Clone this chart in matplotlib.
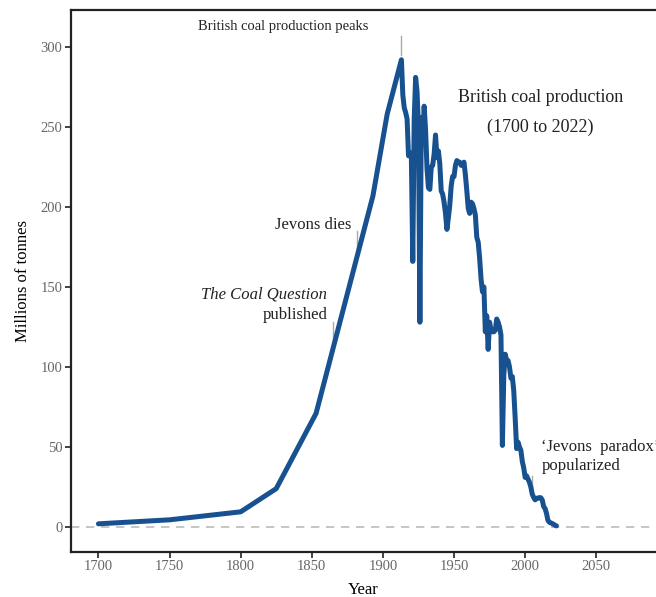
import matplotlib
matplotlib.use("Agg")
import matplotlib.pyplot as plt

# early, sparse observations (million tonnes)
early_years = [1700, 1750, 1800, 1825, 1853, 1893, 1903]
early_values = [2, 4.5, 9.5, 24, 71, 207, 258]

# annual series from the 1913 peak onward
annual_years = list(range(1913, 2023))
annual_values = [
    292, 270, 262, 259, 255, 232, 234, 231, 166, 255,   # 1913-1922
    281, 272, 250, 128, 256, 242, 263, 248, 224, 212,   # 1923-1932
    211, 225, 226, 233, 245, 231, 235, 227, 210, 208,   # 1933-1942
    203, 196, 186, 193, 201, 213, 219, 219, 226, 229,   # 1943-1952
    228, 228, 226, 226, 228, 220, 210, 199, 196, 203,   # 1953-1962
    202, 199, 195, 181, 178, 168, 155, 147, 150, 122,   # 1963-1972
    132, 111, 128, 123, 122, 122, 123, 130, 128, 125,   # 1973-1982
    120, 51, 95, 108, 104, 104, 100, 93, 94, 85,        # 1983-1992
    68, 49, 53, 50, 48, 41, 37, 31, 32, 30,             # 1993-2002
    28, 25, 20.5, 18.5, 17, 18, 18, 18.4, 18.3, 17,     # 2003-2012
    12.8, 11.6, 8.6, 4.2, 3.0, 2.6, 2.2, 1.7, 1.1, 0.7, # 2013-2022
]

years = early_years + annual_years
values = early_values + annual_values

x_ticks = [1700, 1750, 1800, 1850, 1900, 1950, 2000, 2050]
y_ticks = [0, 50, 100, 150, 200, 250, 300]

# years of the marked events
events = {
    "peak": 1913,
    "coal_question": 1865,
    "jevons_dies": 1882,
    "paradox": 2005,
}

plt.rcParams['font.family'] = ['Liberation Serif', 'DejaVu Serif']

line_color = '#17518f'
tick_color = '#aaaaaa'
text_color = '#222222'

fig = plt.figure(figsize=(6.56, 5.97), dpi=100)
ax = fig.add_axes([0.108, 0.0754, 0.892, 0.9076])

ax.axhline(0, color='#bbbbbb', linestyle=(0, (5, 4)), linewidth=1.2, zorder=1)
ax.plot(years, values, color=line_color, linewidth=3.6,
        solid_joinstyle='round', solid_capstyle='round', zorder=3)

ax.set_xlim(1680.6, 2092)
ax.set_ylim(-15.6, 323)
ax.set_xticks(x_ticks)
ax.set_yticks(y_ticks)
ax.tick_params(axis='both', direction='out', length=4, width=1.2,
               color='#222222', labelcolor='#666666', labelsize=10.5)
ax.tick_params(axis='x', pad=2)
ax.tick_params(axis='y', pad=2)

for side in ['left', 'bottom', 'top']:
    ax.spines[side].set_linewidth(1.6)
    ax.spines[side].set_color('#222222')
ax.spines['right'].set_visible(False)

ax.set_xlabel('Year', fontsize=12, labelpad=6)
ax.set_ylabel('Millions of tonnes', fontsize=12, labelpad=7)

# peak annotation
ax.plot([events["peak"]] * 2, [295, 307], color=tick_color, lw=1, zorder=2)
ax.text(1890, 313, 'British coal production peaks',
        ha='right', va='center', fontsize=10.5, color=text_color)

# The Coal Question (1865)
ax.plot([events["coal_question"]] * 2, [114, 128], color=tick_color, lw=1, zorder=2)
ax.text(1860.8, 145, 'The Coal Question', style='italic',
        ha='right', va='center', fontsize=12, color=text_color)
ax.text(1860.8, 132.5, 'published',
        ha='right', va='center', fontsize=12, color=text_color)

# Jevons dies (1882)
ax.plot([events["jevons_dies"]] * 2, [171, 185], color=tick_color, lw=1, zorder=2)
ax.text(1877.7, 188.8, 'Jevons dies',
        ha='right', va='center', fontsize=12, color=text_color)

# Jevons paradox popularized (2005)
ax.plot([events["paradox"]] * 2, [20, 32], color=tick_color, lw=1, zorder=2)
ax.text(2011.4, 50, '\u2018Jevons  paradox\u2019',
        ha='left', va='center', fontsize=12, color=text_color)
ax.text(2011.4, 38, 'popularized',
        ha='left', va='center', fontsize=12, color=text_color)

# title block
ax.text(2010.7, 268.7, 'British coal production',
        ha='center', va='center', fontsize=13, color=text_color)
ax.text(2010.7, 250, '(1700 to 2022)',
        ha='center', va='center', fontsize=13, color=text_color)

fig.savefig('out.png', dpi=100)
